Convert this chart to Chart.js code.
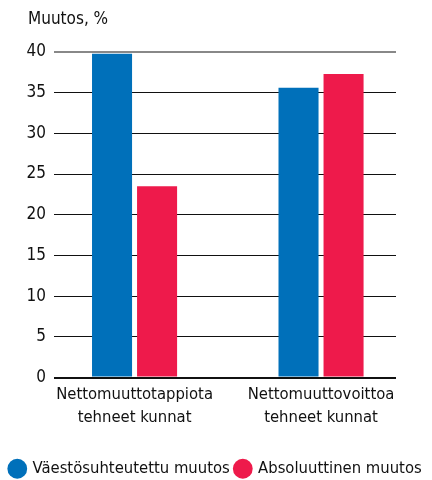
<!DOCTYPE html>
<html>
<head>
<meta charset="utf-8">
<script src="https://cdn.jsdelivr.net/npm/chart.js@4/dist/chart.umd.min.js"></script>
<style>
  html, body { margin: 0; padding: 0; background: #fff; }
  #wrap { position: relative; width: 432px; height: 480px; }
  #title {
    position: absolute; left: 28px; top: 8px;
    font-family: "DejaVu Sans Condensed", sans-serif;
    font-size: 17px; color: #111;
  }
</style>
</head>
<body>
<div id="wrap">
  <div id="title">Muutos, %</div>
  <canvas id="chart" width="432" height="480"></canvas>
</div>
<script>
// Data
const categories = [
  ["Nettomuuttotappiota", "tehneet kunnat"],
  ["Nettomuuttovoittoa", "tehneet kunnat"],
];
const seriesNames = ["Väestösuhteutettu muutos", "Absoluuttinen muutos"];
const populationAdjusted = [39.8, 35.6];
const absoluteChange = [23.5, 37.3];
const yTicks = [0, 5, 10, 15, 20, 25, 30, 35, 40];

const FONT = '"DejaVu Sans Condensed", sans-serif';
const BLUE = "#0070BA";
const RED = "#EE1A4B";

// x positions 1..n on a linear scale so categories can sit off-centre
const toPoints = (values) => values.map((v, i) => ({ x: i + 1, y: v }));

const ctx = document.getElementById("chart").getContext("2d");
new Chart(ctx, {
  type: "bar",
  data: {
    datasets: [
      {
        label: seriesNames[0],
        data: toPoints(populationAdjusted),
        backgroundColor: BLUE,
        categoryPercentage: 0.483,
        barPercentage: 0.889,
      },
      {
        label: seriesNames[1],
        data: toPoints(absoluteChange),
        backgroundColor: RED,
        categoryPercentage: 0.483,
        barPercentage: 0.889,
      },
    ],
  },
  options: {
    responsive: false,
    animation: false,
    layout: { padding: { top: 52, right: 0, left: 0, bottom: -7 } },
    plugins: {
      legend: {
        position: "bottom",
        labels: {
          font: { size: 16.5, family: FONT },
          color: "#111",
          usePointStyle: true,
          pointStyle: "circle",
          boxWidth: 14,
          boxHeight: 14,
          padding: 6,
        },
      },
      tooltip: { enabled: false },
    },
    scales: {
      x: {
        type: "linear",
        offset: false,
        min: 0.568,
        max: 2.402,
        afterBuildTicks: (scale) => {
          scale.ticks = categories.map((c, i) => ({ value: i + 1 }));
        },
        afterFit: (scale) => {
          scale.height = 77;
        },
        ticks: {
          callback: (value) => categories[value - 1],
          font: { size: 16.5, family: FONT, lineHeight: 1.4 },
          color: "#111",
          maxRotation: 0,
          autoSkip: false,
          padding: -2,
        },
        grid: { display: false },
        border: { display: false },
      },
      y: {
        min: 0,
        max: 40,
        afterBuildTicks: (scale) => {
          scale.ticks = yTicks.map((v) => ({ value: v }));
        },
        afterFit: (scale) => {
          scale.width = 54;
        },
        ticks: {
          font: { size: 17, family: FONT },
          color: "#111",
          padding: 8,
        },
        grid: {
          drawTicks: false,
          color: (c) => (c.tick && c.tick.value === 40 ? "#888" : "#111"),
          lineWidth: (c) => (c.tick && (c.tick.value === 40 || c.tick.value === 0) ? 2 : 1),
        },
        border: { display: false },
      },
      // empty right axis, only reserves the margin right of the plot
      yRight: {
        position: "right",
        min: 0,
        max: 40,
        ticks: { display: false },
        grid: { display: false },
        border: { display: false },
        afterFit: (scale) => {
          scale.width = 36;
        },
      },
    },
  },
});
</script>
</body>
</html>
